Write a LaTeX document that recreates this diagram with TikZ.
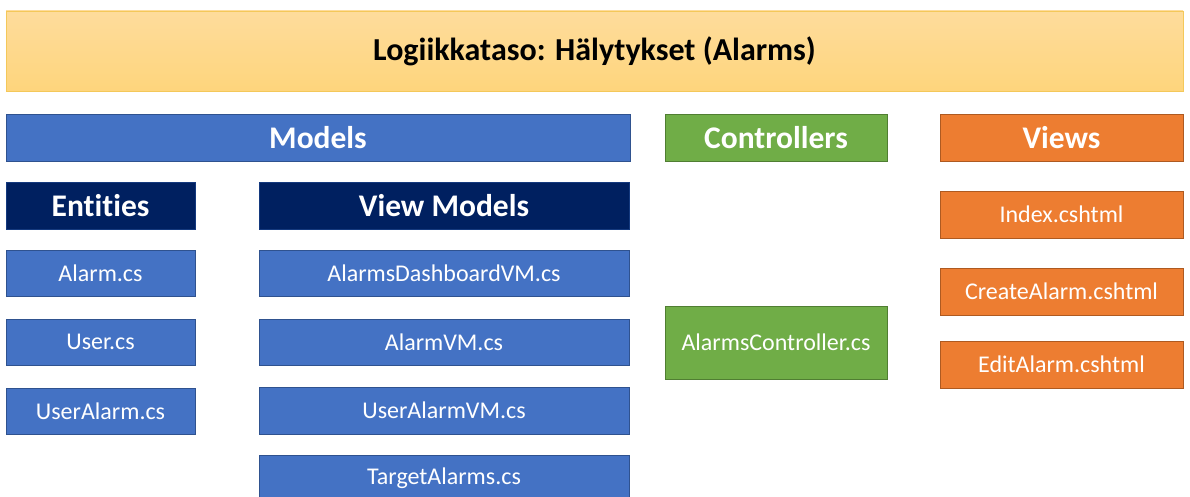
\documentclass[tikz,border=0pt]{standalone}
\usepackage{fontspec}
\setmainfont{Carlito}[Ligatures={NoCommon,NoContextual}]
\definecolor{mblue}{HTML}{4472C4}
\definecolor{mblueb}{HTML}{2F528F}
\definecolor{mnavy}{HTML}{002060}
\definecolor{mgreen}{HTML}{70AD47}
\definecolor{mgreenb}{HTML}{507E32}
\definecolor{morange}{HTML}{ED7D31}
\definecolor{morangeb}{HTML}{AE5A21}
\definecolor{gtop}{HTML}{FEDC9C}
\definecolor{gbot}{HTML}{FED57C}
\definecolor{gbord}{HTML}{F4C85A}
\begin{document}
\begin{tikzpicture}[x=1pt,y=-1pt,
  box/.style={inner sep=0pt, text=white, line width=0.8pt},
  head/.style={box, font=\fontsize{31.5}{36}\selectfont\bfseries, minimum height=47pt},
  item/.style={box, font=\fontsize{24}{28}\selectfont, minimum height=46pt},
  bluebox/.style={fill=mblue, draw=mblueb},
  navybox/.style={fill=mnavy, draw=mnavy!70!mblue},
  greenbox/.style={fill=mgreen, draw=mgreenb},
  orangebox/.style={fill=morange, draw=morangeb},
  titlebox/.style={inner sep=0pt, top color=gtop, bottom color=gbot, draw=gbord, line width=0.8pt,
     minimum width=1177pt, minimum height=80pt, font=\fontsize{32}{38}\selectfont\bfseries}
]
\useasboundingbox (0,0) rectangle (1190,497);
\node[titlebox] (title) at (594.5,51) {Logiikkataso: Hälytykset (Alarms)};

\node[head, bluebox, minimum width=624pt] (models) at (318,137.5) {Models};
\node[head, greenbox, minimum width=222pt] (ctrl) at (776,137.5) {Controllers};
\node[head, orangebox, minimum width=243pt] (views) at (1061.5,137.5) {Views};

\node[head, navybox, minimum width=189pt] (ent) at (100.5,205.5) {Entities};
\node[head, navybox, minimum width=370pt] (vm) at (444,205.5) {View Models};

\node[item, bluebox, minimum width=189pt] (alarm) at (100.5,273) {Alarm.cs};
\node[item, bluebox, minimum width=189pt] (user) at (100.5,342) {User.cs};
\node[item, bluebox, minimum width=189pt] (useralarm) at (100.5,411) {UserAlarm.cs};

\node[item, bluebox, minimum width=370pt] (dash) at (444,273) {AlarmsDashboardVM.cs};
\node[item, bluebox, minimum width=370pt] (alarmvm) at (444,342) {AlarmVM.cs};
\node[item, bluebox, minimum width=370pt, minimum height=47pt] (useralarmvm) at (444,410.5) {UserAlarmVM.cs};
\node[item, bluebox, minimum width=370pt, minimum height=47pt] (target) at (444,478.5) {TargetAlarms.cs};

\node[item, greenbox, minimum width=222pt, minimum height=73pt] (actrl) at (776,342.5) {AlarmsController.cs};

\node[item, orangebox, minimum width=243pt, minimum height=47pt] (index) at (1061.5,214.5) {Index.cshtml};
\node[item, orangebox, minimum width=243pt, minimum height=47pt] (create) at (1061.5,291.5) {CreateAlarm.cshtml};
\node[item, orangebox, minimum width=243pt, minimum height=47pt] (edit) at (1061.5,364.5) {EditAlarm.cshtml};
\end{tikzpicture}
\end{document}
